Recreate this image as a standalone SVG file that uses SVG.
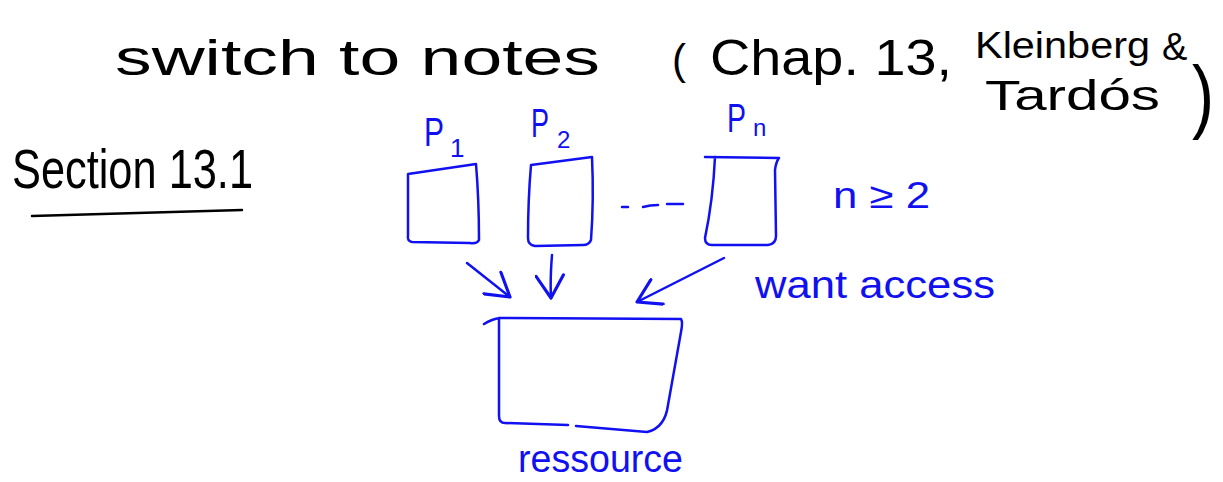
<svg xmlns="http://www.w3.org/2000/svg" width="1223" height="482" viewBox="0 0 1223 482">
<style>
.ink{fill:none;stroke:#000;stroke-width:2.5;stroke-linecap:round;stroke-linejoin:round}
.blue{fill:none;stroke:#1010f0;stroke-width:2.5;stroke-linecap:round;stroke-linejoin:round}
.tb{font-family:"Liberation Sans",Arial,sans-serif;fill:#000}
.tblue{font-family:"Liberation Sans",Arial,sans-serif;fill:#1010f0}
</style>
<defs>
<marker id="head" markerUnits="userSpaceOnUse" markerWidth="30" markerHeight="30" refX="20" refY="12" orient="auto" viewBox="0 0 24 24">
<path d="M2,1 L20,12 L2,23" fill="none" stroke="#1010f0" stroke-width="2.5" stroke-linecap="round" stroke-linejoin="round"/>
</marker>
</defs>
<rect width="1223" height="482" fill="#fff"/>
<g id="title">
<text class="tb" x="115" y="75" font-size="50" textLength="485" lengthAdjust="spacingAndGlyphs">switch to notes</text>
<text class="tb" x="672" y="74" font-size="42">(</text>
<text class="tb" x="710" y="75" font-size="50" textLength="242" lengthAdjust="spacingAndGlyphs">Chap. 13,</text>
<text class="tb" x="975" y="58" font-size="36" textLength="175" lengthAdjust="spacingAndGlyphs">Kleinberg</text>
<text class="tb" x="1162" y="60" font-size="38">&amp;</text>
<text class="tb" x="985" y="110" font-size="42" textLength="175" lengthAdjust="spacingAndGlyphs">Tardós</text>
<text class="tb" x="1192" y="82" font-size="54" transform="translate(0,123) scale(1,1.5) translate(0,-82)" textLength="22" lengthAdjust="spacingAndGlyphs">)</text>
</g>
<g id="section">
<text class="tb" x="12" y="188" font-size="55" textLength="241" lengthAdjust="spacingAndGlyphs">Section 13.1</text>
<path class="ink" d="M32,216 L242,210"/>
</g>
<g id="node-p1">
<path class="blue" d="M408,174 L476,164 Q479,200 479,240 Q477,244 470,243 L412,242 Q407,241 408,236 Z"/>
<text class="tblue" x="424" y="146" font-size="40" textLength="20" lengthAdjust="spacingAndGlyphs">P</text>
<text class="tblue" x="450" y="157" font-size="26">1</text>
</g>
<g id="node-p2">
<path class="blue" d="M531,165 L592,157 Q594,200 591,240 Q589,245 583,245 L535,246 Q528,245 528,238 Q528,200 531,165"/>
<text class="tblue" x="531" y="137" font-size="40" textLength="18" lengthAdjust="spacingAndGlyphs">P</text>
<text class="tblue" x="557" y="148" font-size="24">2</text>
</g>
<g id="dots">
<path class="blue" d="M622,207 L628,207 M643,207 Q650,205 658,205 M667,204 L683,204"/>
</g>
<g id="node-pn">
<path class="blue" d="M705,157 L779,158 M715,157 Q713,200 705,238 Q705,245 712,245 L768,245 Q776,244 776,236 L775,170 Q776,162 779,158"/>
<text class="tblue" x="727" y="132" font-size="40" textLength="19" lengthAdjust="spacingAndGlyphs">P</text>
<text class="tblue" x="753" y="136" font-size="24">n</text>
</g>
<g id="label-n">
<text class="tblue" x="833" y="208" font-size="36" textLength="97" lengthAdjust="spacingAndGlyphs">n ≥ 2</text>
</g>
<g id="connectors">
<path class="blue" d="M467,263 L510,297" marker-end="url(#head)"/>
<path class="blue" d="M552,255 Q550,280 551,298" marker-end="url(#head)"/>
<path class="blue" d="M724,258 L637,302" marker-end="url(#head)"/>
</g>
<g id="label-want">
<text class="tblue" x="755" y="298" font-size="38" textLength="240" lengthAdjust="spacingAndGlyphs">want access</text>
</g>
<g id="node-resource">
<path class="blue" d="M484,324 Q492,319 500,318 L681,319 Q683,322 681,332 L668,405 Q665,428 647,432 L576,426 M568,425 L505,423 Q499,423 499,416 L499,318"/>
<text class="tblue" x="518" y="472" font-size="38" textLength="165" lengthAdjust="spacingAndGlyphs">ressource</text>
</g>
</svg>
